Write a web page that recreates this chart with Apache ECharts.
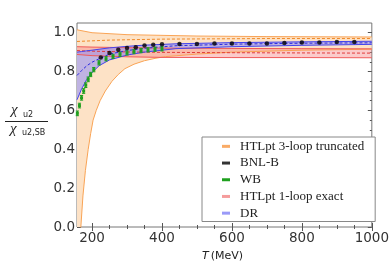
<!DOCTYPE html>
<html><head><meta charset="utf-8">
<script src="https://cdn.jsdelivr.net/npm/echarts@6/dist/echarts.min.js"></script>
<style>html,body{margin:0;padding:0;background:#fff}#c{width:392px;height:275px}</style>
</head><body><div id="c"></div>
<script>
// ---- tick labels ----
const xTicks = [200, 400, 600, 800, 1000];
const xMinorTicks = [250, 300, 350, 450, 500, 550, 650, 700, 750, 850, 900, 950];
const yTicks = [0, 0.2, 0.4, 0.6, 0.8, 1.0];
const yMinorTicks = [0.05, 0.1, 0.15, 0.25, 0.3, 0.35, 0.45, 0.5, 0.55, 0.65, 0.7, 0.75, 0.85, 0.9, 0.95, 1.0];

// ---- HTLpt 3-loop truncated (orange band) ----
const orangeT    = [157, 165, 168, 174, 181, 189, 196, 203, 212, 223, 238, 257, 275, 294, 320, 350, 380, 410, 500, 600, 800, 1000];
const orangeLow  = [-0.8, -0.1, 0.0, 0.16, 0.29, 0.40, 0.48, 0.55, 0.60, 0.65, 0.70, 0.75, 0.785, 0.815, 0.838, 0.856, 0.868, 0.877, 0.89, 0.90, 0.91, 0.915];
const orangeHighT = [157, 200, 300, 500, 700, 1000];
const orangeHigh  = [1.015, 1.0, 0.99, 0.983, 0.98, 0.978];
const orangeMidT  = [157, 250, 400, 700, 1000];
const orangeMid   = [0.955, 0.962, 0.967, 0.97, 0.97];

// ---- HTLpt 1-loop exact (red band) ----
const redT    = [157, 200, 300, 400, 600, 800, 1000];
const redHigh = [0.928, 0.926, 0.923, 0.921, 0.919, 0.918, 0.917];
const redLow  = [0.888, 0.882, 0.876, 0.873, 0.872, 0.872, 0.871];
const redMid  = [0.908, 0.905, 0.901, 0.899, 0.897, 0.896, 0.895];

// ---- DR (blue band) ----
const blueT    = [157, 170, 185, 200, 220, 250, 300, 350, 440, 600, 800, 1000];
const blueHigh = [0.90, 0.903, 0.907, 0.91, 0.915, 0.922, 0.93, 0.936, 0.943, 0.949, 0.953, 0.956];
const blueMid  = [0.78, 0.805, 0.83, 0.848, 0.866, 0.89, 0.908, 0.92, 0.933, 0.941, 0.946, 0.948];
const blueLow  = [0.655, 0.71, 0.76, 0.795, 0.83, 0.86, 0.885, 0.90, 0.918, 0.928, 0.935, 0.94];

// ---- BNL-B (black points) ----
const bnlT = [225, 250, 275, 300, 325, 350, 375, 400, 450, 500, 550, 600, 650, 700, 750, 800, 850, 900, 950];
const bnlV = [0.873, 0.896, 0.912, 0.921, 0.925, 0.934, 0.938, 0.941, 0.942, 0.942, 0.944, 0.944, 0.945, 0.945, 0.947, 0.949, 0.95, 0.952, 0.952];

// ---- WB (green points with errors) ----
const wbT = [158, 164, 170, 176, 182, 189, 196, 205, 220, 240, 260, 280, 300, 320, 340, 360, 380, 400];
const wbV = [0.585, 0.625, 0.665, 0.70, 0.73, 0.76, 0.785, 0.81, 0.845, 0.866, 0.878, 0.889, 0.896, 0.903, 0.908, 0.912, 0.915, 0.917];
const wbE = [0.012, 0.012, 0.012, 0.012, 0.012, 0.012, 0.011, 0.011, 0.011, 0.011, 0.011, 0.011, 0.011, 0.011, 0.011, 0.011, 0.011, 0.011];

const C = {
  orangeFill: '#fde2c6', orangeEdge: '#f9a456', orangeMid: '#f08a28',
  redFill: 'rgba(245,130,130,0.42)', redEdge: '#f05a5a', redMid: '#e23a3a',
  blueFill: 'rgba(140,140,250,0.55)', blueEdge: '#4545ee', blueMid: '#2a2ae0',
  green: '#1f9f1f', black: '#000'
};

function pairs(T, V) { return T.map((t, i) => [t, V[i]]); }

function band(name, T, lo, hiT, hi, fill, z) {
  return {
    type: 'custom', name: name, z: z, silent: true,
    data: [[500, 0.5]],
    renderItem: function (params, api) {
      const pts = [];
      for (let i = 0; i < hiT.length; i++) pts.push(api.coord([hiT[i], hi[i]]));
      for (let i = T.length - 1; i >= 0; i--) pts.push(api.coord([T[i], lo[i]]));
      const cs = params.coordSys;
      return {
        type: 'polygon', shape: { points: pts }, style: { fill: fill },
        clipPath: { type: 'rect', shape: { x: cs.x, y: cs.y, width: cs.width, height: cs.height } }
      };
    }
  };
}
function line(T, V, color, dashed, z) {
  return {
    type: 'line', data: pairs(T, V), showSymbol: false, silent: true, z: z,
    lineStyle: { color: color, width: 1, type: dashed ? [3, 2] : 'solid' },
    clip: true
  };
}

const chart = echarts.init(document.getElementById('c'), null, { renderer: 'canvas' });
const tickColor = '#555';
const xAxisBase = { type: 'value', min: 157, max: 1000, gridIndex: 0, splitLine: { show: false }, axisLine: { show: false } };
const yAxisBase = { type: 'value', min: 0, max: 1.05, gridIndex: 0, splitLine: { show: false }, axisLine: { show: false } };

chart.setOption({
  animation: false,
  grid: { left: 77, right: 18, top: 23, bottom: 48, show: true, borderColor: '#777', borderWidth: 1, backgroundColor: 'transparent' },
  xAxis: [
    Object.assign({}, xAxisBase, { position: 'bottom',
      axisTick: { inside: true, length: 4, customValues: xTicks, lineStyle: { color: tickColor } },
      axisLabel: { customValues: xTicks, fontFamily: 'DejaVu Sans', fontSize: 13.5, color: '#333', margin: 4,
        formatter: v => String(v) } }),
    Object.assign({}, xAxisBase, { position: 'bottom',
      axisTick: { inside: true, length: 2, customValues: xMinorTicks, lineStyle: { color: tickColor } },
      axisLabel: { show: false } }),
    Object.assign({}, xAxisBase, { position: 'top',
      axisTick: { inside: true, length: 4, customValues: xTicks, lineStyle: { color: tickColor } },
      axisLabel: { show: false } }),
    Object.assign({}, xAxisBase, { position: 'top',
      axisTick: { inside: true, length: 2, customValues: xMinorTicks, lineStyle: { color: tickColor } },
      axisLabel: { show: false } })
  ],
  yAxis: [
    Object.assign({}, yAxisBase, { position: 'left',
      axisTick: { inside: true, length: 4, customValues: yTicks, lineStyle: { color: tickColor } },
      axisLabel: { customValues: yTicks, fontFamily: 'DejaVu Sans', fontSize: 13.5, color: '#333', margin: 2,
        formatter: v => v.toFixed(1) } }),
    Object.assign({}, yAxisBase, { position: 'left',
      axisTick: { inside: true, length: 2, customValues: yMinorTicks, lineStyle: { color: tickColor } },
      axisLabel: { show: false } }),
    Object.assign({}, yAxisBase, { position: 'right',
      axisTick: { inside: true, length: 4, customValues: yTicks, lineStyle: { color: tickColor } },
      axisLabel: { show: false } }),
    Object.assign({}, yAxisBase, { position: 'right',
      axisTick: { inside: true, length: 2, customValues: yMinorTicks, lineStyle: { color: tickColor } },
      axisLabel: { show: false } })
  ],
  legend: {
    orient: 'vertical', left: 202, top: 137, itemWidth: 8, itemHeight: 3, itemGap: 0,
    padding: [1, 11, 0, 20], backgroundColor: '#fff', borderColor: '#888', borderWidth: 1,
    icon: 'rect', selectedMode: false, z: 10,
    textStyle: { fontFamily: 'Liberation Serif', fontSize: 13, color: '#222', lineHeight: 16.7, padding: [0, 0, 0, 5] },
    data: [
      { name: 'HTLpt 3-loop truncated', itemStyle: { color: '#f9ab66' } },
      { name: 'BNL-B', itemStyle: { color: '#000' } },
      { name: 'WB', itemStyle: { color: '#1fa01f' } },
      { name: 'HTLpt 1-loop exact', itemStyle: { color: '#f59c9c' } },
      { name: 'DR', itemStyle: { color: '#9a9af8' } }
    ]
  },
  graphic: [
    { type: 'text', left: 202, top: 251, style: { text: '{a|T}{b|(MeV)}', rich: {
        a: { fontFamily: 'DejaVu Sans', fontStyle: 'italic', fontSize: 11, fill: '#222', padding: [0, 2, 0, 0] },
        b: { fontFamily: 'DejaVu Sans', fontSize: 11, fill: '#222' } } } },
    { type: 'text', x: 11, y: 110, style: { text: 'χ', font: 'italic 15px "Liberation Serif"', fill: '#222', verticalAlign: 'middle' } },
    { type: 'text', x: 23, y: 115, style: { text: 'u2', font: '8px "DejaVu Sans"', fill: '#222', verticalAlign: 'middle' } },
    { type: 'line', shape: { x1: 5, y1: 121.5, x2: 48, y2: 121.5 }, style: { stroke: '#222', lineWidth: 1 } },
    { type: 'text', x: 10, y: 129, style: { text: 'χ', font: 'italic 15px "Liberation Serif"', fill: '#222', verticalAlign: 'middle' } },
    { type: 'text', x: 22, y: 133, style: { text: 'u2,SB', font: '8px "DejaVu Sans"', fill: '#222', verticalAlign: 'middle' } }
  ],
  series: [
    band('HTLpt 3-loop truncated', orangeT, orangeLow, orangeHighT, orangeHigh, C.orangeFill, 1),
    band('HTLpt 1-loop exact', redT, redLow, redT, redHigh, C.redFill, 2),
    band('DR', blueT, blueLow, blueT, blueHigh, C.blueFill, 3),
    line(orangeT, orangeLow, C.orangeEdge, false, 4),
    line(orangeHighT, orangeHigh, C.orangeEdge, false, 4),
    line(orangeMidT, orangeMid, C.orangeMid, true, 4),
    line(redT, redLow, C.redEdge, false, 4),
    line(redT, redHigh, C.redEdge, false, 4),
    line(redT, redMid, C.redMid, true, 4),
    line(blueT, blueLow, C.blueEdge, false, 5),
    line(blueT, blueHigh, C.blueEdge, false, 5),
    line(blueT, blueMid, C.blueMid, true, 5),
    {
      type: 'custom', name: 'WB', z: 6, silent: true,
      data: wbT.map((t, i) => [t, wbV[i], wbE[i]]),
      encode: { x: 0, y: 1 },
      renderItem: function (params, api) {
        const t = api.value(0), v = api.value(1), e = api.value(2);
        const top = api.coord([t, v + e]), bot = api.coord([t, v - e]), c = api.coord([t, v]);
        return { type: 'group', children: [
          { type: 'line', shape: { x1: top[0], y1: top[1], x2: bot[0], y2: bot[1] }, style: { stroke: C.green, lineWidth: 1.3 } },
          { type: 'line', shape: { x1: top[0] - 1.6, y1: top[1], x2: top[0] + 1.6, y2: top[1] }, style: { stroke: C.green, lineWidth: 1 } },
          { type: 'line', shape: { x1: bot[0] - 1.6, y1: bot[1], x2: bot[0] + 1.6, y2: bot[1] }, style: { stroke: C.green, lineWidth: 1 } },
          { type: 'rect', shape: { x: c[0] - 1.5, y: c[1] - 1.5, width: 3, height: 3 }, style: { fill: C.green } }
        ] };
      }
    },
    {
      type: 'scatter', name: 'BNL-B', z: 7, silent: true,
      data: pairs(bnlT, bnlV), symbol: 'circle', symbolSize: 4.5,
      itemStyle: { color: C.black }
    }
  ]
});
</script></body></html>
